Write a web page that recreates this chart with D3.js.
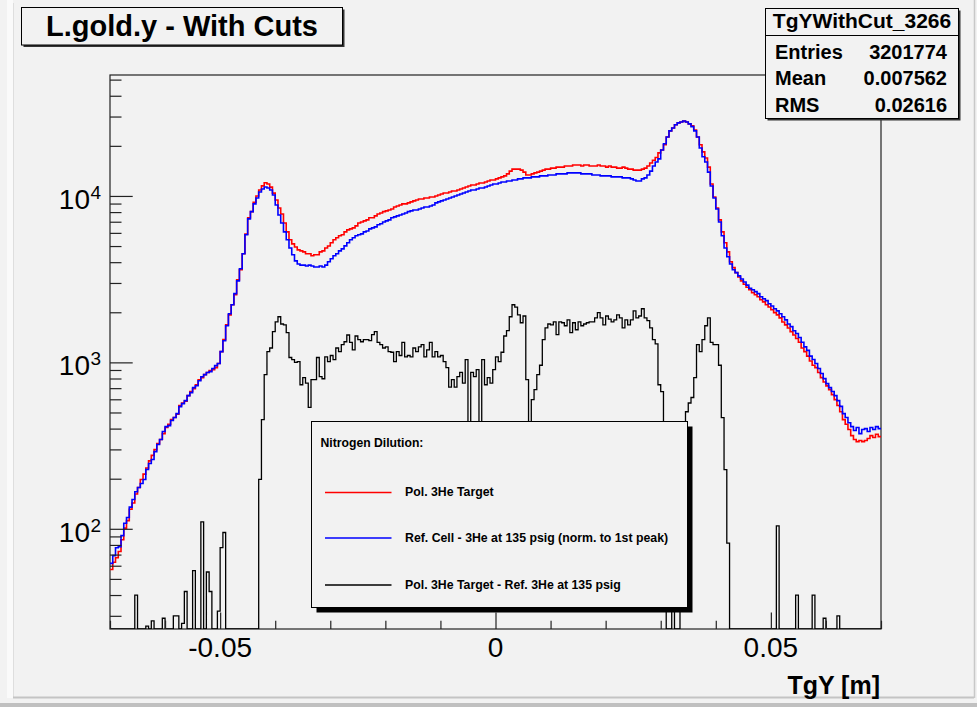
<!DOCTYPE html>
<html><head><meta charset="utf-8">
<script src="https://cdn.jsdelivr.net/npm/d3@7"></script>
<style>
body{margin:0;background:#f2f2f2}
svg{display:block}
text{font-family:"Liberation Sans",Arial,Helvetica,sans-serif}
</style>
</head><body>
<svg id="c" width="977" height="707"></svg>
<script>
// ---------------- data ----------------
const xMin = -0.07, xMax = 0.07, binWidth = 0.0005;
const yMin = 25, yMax = 53300;

const redTarget = [
57,63,67,73,86,101,112,131,143,162,
177,198,213,232,256,276,299,325,344,373,
406,425,453,466,488,551,569,585,631,668,
695,734,787,810,844,870,892,904,930,985,
1160,1370,1680,1930,2220,2550,3130,3600,4490,5900,
7390,8050,9170,10000,10860,11500,12000,11800,11300,10400,
9460,8470,7790,6880,6080,5450,5150,4930,4740,4680,
4610,4490,4490,4370,4430,4430,4610,4680,4870,5000,
5230,5450,5610,5760,5840,6080,6250,6340,6430,6610,
6880,6980,7080,7180,7390,7390,7590,7790,7900,8050,
8130,8240,8350,8590,8710,8830,8960,8960,9090,9210,
9340,9460,9590,9590,9730,9730,9860,9860,10000,10140,
10280,10420,10420,10570,10710,10710,10860,11010,11170,11320,
11480,11640,11640,11800,11970,11970,12140,12310,12480,12480,
12660,12840,13020,13200,13570,14100,14500,14500,14500,14300,
13900,13370,13370,13570,13760,13900,14100,14300,14500,14500,
14700,14700,14910,14910,14910,15120,15120,15120,15330,15330,
15330,15120,15330,15330,15120,15120,15120,15330,15120,15120,
14910,15120,14910,14910,14700,14700,14910,14700,14500,14500,
14300,14300,14300,14500,14700,15120,15770,16400,17020,18140,
18900,20300,22600,24600,25600,26800,27500,27800,28200,27800,
27100,26400,24900,22600,20300,18400,16900,14910,11800,9860,
8470,7180,6080,5230,4610,4020,3710,3460,3260,3090,
2950,2830,2730,2620,2550,2480,2380,2310,2220,2150,
2070,1990,1930,1850,1750,1680,1610,1530,1460,1390,
1320,1220,1160,1090,1020,961,930,870,810,763,
722,686,640,597,551,505,453,425,395,363,
344,334,339,334,339,349,363,354,370,358
];

const blueRefCell = [
62,69,77,78,91,108,117,135,150,167,
177,187,198,227,247,261,291,321,344,384,
411,417,447,466,492,542,565,589,631,658,
705,724,776,820,844,870,880,918,956,985,
1160,1350,1660,1960,2220,2590,3090,3650,4490,5850,
7280,8050,8960,9730,10570,11010,11320,11170,10860,10140,
8830,7690,6880,6080,5450,4870,4430,4070,3900,3840,
3840,3790,3840,3790,3740,3740,3790,3740,3840,4020,
4190,4370,4490,4680,4810,5010,5230,5450,5610,5760,
5840,5920,6080,6160,6340,6430,6520,6710,6810,6980,
7080,7180,7390,7490,7590,7690,7790,7900,8050,8130,
8240,8240,8350,8470,8590,8590,8710,8830,9090,9210,
9340,9460,9590,9730,9860,10000,10140,10280,10420,10570,
10710,10860,10860,11010,11170,11170,11320,11480,11640,11800,
11800,11970,12140,12140,12310,12310,12480,12480,12660,12660,
12840,12840,12840,13020,13020,13020,13200,13200,13200,13370,
13370,13370,13570,13570,13570,13570,13760,13760,13760,13760,
13760,13570,13570,13570,13570,13370,13370,13370,13200,13200,
13200,13200,13020,13020,13020,13020,12840,12840,12840,12660,
12480,12310,12310,12660,12840,13370,14100,15120,16000,16700,
18900,20600,22600,24600,25600,26800,27500,27800,28200,27800,
27100,26100,24600,22600,19400,17200,16000,13900,11480,9730,
8350,6980,5760,4870,4310,3900,3600,3460,3310,3170,
3040,2910,2790,2730,2660,2590,2480,2410,2350,2250,
2180,2100,2040,1960,1880,1800,1700,1640,1550,1490,
1410,1320,1240,1180,1090,1040,985,918,857,799,
745,705,668,631,589,544,492,466,434,411,
390,406,373,395,400,384,406,395,411,400
];

const blackDiff = [
0,0,0,0,0,0,0,0,0,40,
0,0,0,26,0,28,0,0,0,29,
0,0,0,30,30,0,27,42,0,0,
56,0,0,110,0,55,42,0,0,32,
77,95,0,0,0,0,0,0,0,0,
0,0,0,0,198,453,844,1160,1220,1530,
1750,1880,1700,1680,1510,1070,1040,1000,1010,734,
810,750,536,787,787,1070,820,797,1080,1010,
1100,1040,1220,1160,1280,1330,1460,1320,1190,1440,
1370,1330,1370,1370,1350,1470,1530,1320,1280,1220,
1240,1160,1150,1010,1160,1100,1320,1080,1100,1080,
1220,1160,1240,1280,1080,1190,1320,1080,1160,1080,
1100,1010,930,710,787,710,820,870,750,1040,
344,870,820,904,344,1040,734,810,750,904,
1080,1010,1150,1440,1550,1880,2220,2150,1930,1730,
1900,787,344,597,686,844,961,1370,1610,1700,
1680,1750,1470,1750,1730,1660,1800,1510,1730,1570,
1750,1660,1700,1730,1750,1750,1850,1990,1850,1680,
1900,1820,1750,1800,1930,1850,1610,1800,1680,1800,
2040,1850,1900,2100,1850,1780,1610,1370,1290,734,
668,344,0,0,50,0,0,60,200,505,
570,615,810,1280,1160,1370,1660,1850,1320,1280,
1280,961,466,227,82,0,0,0,0,0,
0,0,0,0,0,0,0,0,0,0,
0,0,104,0,0,0,0,0,0,40,
0,0,0,0,0,40,0,0,0,29,
0,0,0,0,30,0,0,0,0,0,
0,0,0,0,0,0,0,0,0,0
];

const xMajorTicks = [-0.05, 0, 0.05];
const xMajorLabels = ["-0.05", "0", "0.05"];
const xMinorTicks = [-0.07,-0.06,-0.04,-0.03,-0.02,-0.01,0.01,0.02,0.03,0.04,0.06,0.07];
const yMajorTicks = [100, 1000, 10000];
const yMajorExp = ["2", "3", "4"];
const yMinorTicks = [30,40,50,60,70,80,90,200,300,400,500,600,700,800,900,
                     2000,3000,4000,5000,6000,7000,8000,9000,20000,30000,40000,50000];

const titleText = "L.gold.y - With Cuts";
const statsName = "TgYWithCut_3266";
const statsLabels = ["Entries", "Mean", "RMS"];
const statsValues = ["3201774", "0.007562", "0.02616"];
const legendHeader = "Nitrogen Dilution:";
const legendLabels = ["Pol. 3He Target", "Ref. Cell - 3He at 135 psig (norm. to 1st peak)", "Pol. 3He Target - Ref. 3He at 135 psig"];
const seriesColors = ["#ff0000", "#0000ff", "#000000"];
const xTitle = "TgY [m]";

// ---------------- drawing ----------------
const svg = d3.select("#c");
const W = 977, H = 707;
const fx0 = 110, fx1 = 881, fy0 = 75, fy1 = 629;

svg.append("rect").attr("width", W).attr("height", H).attr("fill", "#f2f2f2");
// canvas bevel borders
svg.append("rect").attr("x", 7).attr("y", 0).attr("width", 6).attr("height", 698).attr("fill", "#fafafa");
svg.append("line").attr("x1", 13.5).attr("x2", 13.5).attr("y1", 3).attr("y2", 697).attr("stroke", "#dedede");
svg.append("line").attr("x1", 13).attr("x2", 974).attr("y1", 697.5).attr("y2", 697.5).attr("stroke", "#c4c4c4").attr("stroke-width", 2);
svg.append("line").attr("x1", 974.5).attr("x2", 974.5).attr("y1", 0).attr("y2", 698).attr("stroke", "#c8c8c8").attr("stroke-width", 1.5);
svg.append("rect").attr("x", 0).attr("y", 703).attr("width", W).attr("height", 4).attr("fill", "#c0c0c0");

const x = d3.scaleLinear().domain([xMin, xMax]).range([fx0, fx1]);
const y = d3.scaleLog().domain([yMin, yMax]).range([fy1, fy0]);

svg.append("defs").append("clipPath").attr("id", "clip")
  .append("rect").attr("x", fx0).attr("y", fy0).attr("width", fx1 - fx0).attr("height", fy1 - fy0);

// frame
svg.append("rect").attr("x", fx0).attr("y", fy0).attr("width", fx1 - fx0).attr("height", fy1 - fy0)
  .attr("fill", "none").attr("stroke", "#222").attr("stroke-width", 1.2);

function stepPath(vals) {
  let d = "";
  vals.forEach((v, i) => {
    const x0 = x(xMin + i * binWidth), x1 = x(xMin + (i + 1) * binWidth);
    const yy = y(Math.min(Math.max(v, yMin), yMax));
    d += (i === 0 ? `M${x0},${yy}` : `L${x0},${yy}`) + `L${x1},${yy}`;
  });
  return d;
}

const g = svg.append("g").attr("clip-path", "url(#clip)");
g.append("path").attr("d", stepPath(redTarget)).attr("fill", "none").attr("stroke", seriesColors[0]).attr("stroke-width", 1.6);
g.append("path").attr("d", stepPath(blueRefCell)).attr("fill", "none").attr("stroke", seriesColors[1]).attr("stroke-width", 1.6);
g.append("path").attr("d", stepPath(blackDiff)).attr("fill", "none").attr("stroke", seriesColors[2]).attr("stroke-width", 1.3);

// axes (ticks inside the frame)
const xAxisMaj = d3.axisBottom(x).tickValues(xMajorTicks).tickSize(-16.6).tickFormat("");
const xAxisMin = d3.axisBottom(x).tickValues(xMinorTicks).tickSize(-8.3).tickFormat("");
const yAxisMaj = d3.axisLeft(y).tickValues(yMajorTicks).tickSize(-22.7).tickFormat("");
const yAxisMin = d3.axisLeft(y).tickValues(yMinorTicks).tickSize(-11.5).tickFormat("");
[xAxisMaj, xAxisMin].forEach(a => {
  const ax = svg.append("g").attr("transform", `translate(0,${fy1})`).call(a);
  ax.select(".domain").remove();
  ax.selectAll("line").attr("stroke", "#222").attr("stroke-width", 1.2);
});
[yAxisMaj, yAxisMin].forEach(a => {
  const ax = svg.append("g").attr("transform", `translate(${fx0},0)`).call(a);
  ax.select(".domain").remove();
  ax.selectAll("line").attr("stroke", "#222").attr("stroke-width", 1.2);
});

// x tick labels
xMajorTicks.forEach((v, i) => {
  svg.append("text").attr("x", x(v)).attr("y", 657).attr("text-anchor", "middle")
    .attr("font-size", 28).attr("fill", "#000").text(xMajorLabels[i]);
});
// y tick labels 10^n
yMajorTicks.forEach((v, i) => {
  const yy = y(v);
  svg.append("text").attr("x", 90).attr("y", yy + 13).attr("text-anchor", "end")
    .attr("font-size", 28).attr("fill", "#000").text("10");
  svg.append("text").attr("x", 90.5).attr("y", yy + 3).attr("text-anchor", "start")
    .attr("font-size", 19).attr("fill", "#000").text(yMajorExp[i]);
});

// x axis title
svg.append("text").attr("x", 880).attr("y", 694).attr("text-anchor", "end")
  .attr("font-size", 25).attr("font-weight", "bold").attr("fill", "#000").text(xTitle);

// title box
svg.append("rect").attr("x", 23.5).attr("y", 9.5).attr("width", 321).attr("height", 37.5).attr("fill", "#333");
svg.append("rect").attr("x", 21.5).attr("y", 7.5).attr("width", 321).attr("height", 37.5)
  .attr("fill", "#f2f2f2").attr("stroke", "#000").attr("stroke-width", 1);
svg.append("text").attr("x", 182).attr("y", 36).attr("text-anchor", "middle")
  .attr("font-size", 29).attr("font-weight", "bold").attr("fill", "#000").text(titleText);

// stats box
const sb = {x: 765.5, y: 8.5, w: 193, h: 110};
svg.append("rect").attr("x", sb.x + 2).attr("y", sb.y + 2).attr("width", sb.w).attr("height", sb.h).attr("fill", "#333");
svg.append("rect").attr("x", sb.x).attr("y", sb.y).attr("width", sb.w).attr("height", sb.h)
  .attr("fill", "#f2f2f2").attr("stroke", "#000").attr("stroke-width", 1);
svg.append("line").attr("x1", sb.x).attr("x2", sb.x + sb.w).attr("y1", 35.5).attr("y2", 35.5).attr("stroke", "#000");
svg.append("text").attr("x", sb.x + sb.w / 2).attr("y", 28).attr("text-anchor", "middle")
  .attr("font-size", 21).attr("font-weight", "bold").text(statsName);
statsLabels.forEach((lab, i) => {
  const by = 58.5 + i * 26.7;
  svg.append("text").attr("x", 775).attr("y", by).attr("font-size", 20).attr("font-weight", "bold").text(lab);
  svg.append("text").attr("x", 947).attr("y", by).attr("text-anchor", "end").attr("font-size", 20).attr("font-weight", "bold").text(statsValues[i]);
});

// legend
const lg = {x: 311.5, y: 421.5, w: 376, h: 186};
svg.append("rect").attr("x", lg.x + 5).attr("y", lg.y + 5).attr("width", lg.w).attr("height", lg.h).attr("fill", "#000");
svg.append("rect").attr("x", lg.x).attr("y", lg.y).attr("width", lg.w).attr("height", lg.h)
  .attr("fill", "#f2f2f2").attr("stroke", "#000").attr("stroke-width", 1);
svg.append("text").attr("x", 320.5).attr("y", 446.5).attr("font-size", 12.2).attr("font-weight", "bold").text(legendHeader);
const legY = [492.5, 538, 585];
legendLabels.forEach((lab, i) => {
  svg.append("line").attr("x1", 325).attr("x2", 391.5).attr("y1", legY[i]).attr("y2", legY[i])
    .attr("stroke", seriesColors[i]).attr("stroke-width", 1.3);
  svg.append("text").attr("x", 405).attr("y", legY[i] + 3.5).attr("font-size", 12.3).attr("font-weight", "bold").text(lab);
});
</script>
</body></html>
